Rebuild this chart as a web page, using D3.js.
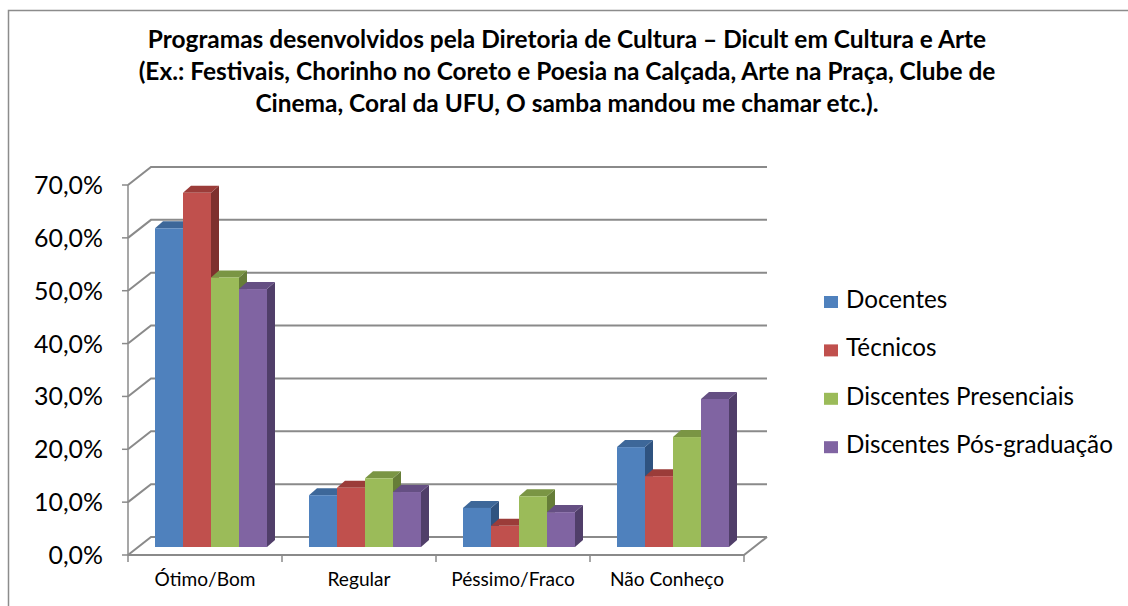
<!DOCTYPE html>
<html>
<head>
<meta charset="utf-8">
<script src="https://cdn.jsdelivr.net/npm/d3@7"></script>
<style>
  body { margin: 0; background: #fff; }
  text { font-family: Lato, "Open Sans", sans-serif; fill: #000; }
</style>
</head>
<body>
<div id="chart"></div>
<script>
// data
var categories = ["Ótimo/Bom", "Regular", "Péssimo/Fraco", "Não Conheço"];
var series = ["Docentes", "Técnicos", "Discentes Presenciais", "Discentes Pós-graduação"];
var docentes = [0.603, 0.098, 0.074, 0.189];
var tecnicos = [0.670, 0.112, 0.040, 0.134];
var presenciais = [0.510, 0.130, 0.096, 0.208];
var posGraduacao = [0.488, 0.104, 0.066, 0.280];
var yTicks = [0, 0.1, 0.2, 0.3, 0.4, 0.5, 0.6, 0.7];
var titleLines = [
    "Programas desenvolvidos pela Diretoria de Cultura – Dicult em Cultura e Arte",
    "(Ex.: Festivais, Chorinho no Coreto e Poesia na Calçada, Arte na Praça, Clube de",
    "Cinema, Coral da UFU, O samba mandou me chamar etc.)."
];

var seriesValues = [docentes, tecnicos, presenciais, posGraduacao];
var colors = ["#4F81BD", "#C0504D", "#9BBB59", "#8064A2"];
var topColors = ["#3D6799", "#9B3C39", "#7A9544", "#654F83"];
var sideColors = ["#2F5380", "#7E302E", "#667D38", "#503E69"];

var width = 1128, height = 606;

var svg = d3.select("#chart").append("svg")
    .attr("width", width)
    .attr("height", height);

// outer frame (only top and left edges show)
svg.append("path")
    .attr("d", "M8.5," + height + "V10.5H" + width)
    .attr("fill", "none")
    .attr("stroke", "#8c8c8c")
    .attr("stroke-width", 1.5);

// scales on the front plane
var yScale = d3.scaleLinear().domain([0, 0.7]).range([555, 185]);
var xCat = d3.scaleBand().domain(categories).range([128, 744]);
var xSeries = d3.scaleBand().domain(series).range([17, 129]);

// depth offsets
var wallDx = 23, wallDy = -18;  // back wall
var barDx = 10, barDy = -8;     // plane of bar fronts
var depthX = 8, depthY = -7;    // thickness of a bar

var loc = d3.formatLocale({decimal: ",", thousands: ".", grouping: [3], currency: ["R$", ""]});
var pct = loc.format(".1%");

// fit font size to a measured width
function fitSize(str, weight, target) {
    var t = svg.append("text").attr("font-size", 20).attr("font-weight", weight).text(str);
    var w = t.node().getComputedTextLength();
    t.remove();
    return 20 * target / w;
}

var gridColor = "#8a8a8a";
var grid = svg.append("g").attr("fill", "none").attr("stroke", gridColor).attr("stroke-width", 2);

// back wall gridlines and side diagonals
yTicks.forEach(function(v) {
    var y = yScale(v);
    grid.append("path")
        .attr("d", "M128," + y + "L" + (128 + wallDx) + "," + (y + wallDy) + "H767");
});

// floor
grid.append("path")
    .attr("d", "M128," + yScale(0) + "H744L767," + (yScale(0) + wallDy));

// y axis line + ticks
var axisG = svg.append("g").attr("stroke", gridColor).attr("stroke-width", 1.5);
axisG.append("line").attr("x1", 128).attr("x2", 128).attr("y1", yScale(0.7)).attr("y2", yScale(0));
yTicks.forEach(function(v) {
    axisG.append("line").attr("x1", 122).attr("x2", 128).attr("y1", yScale(v)).attr("y2", yScale(v));
});
// category ticks
d3.range(categories.length + 1).forEach(function(i) {
    var x = 128 + i * xCat.bandwidth();
    axisG.append("line").attr("x1", x).attr("x2", x).attr("y1", yScale(0)).attr("y2", yScale(0) + 7);
});

// y labels
var ySize = fitSize("70,0%", 400, 69);
svg.append("g").selectAll("text")
    .data(yTicks)
    .enter().append("text")
    .attr("x", 103)
    .attr("y", d => yScale(d))
    .attr("dy", "0.36em")
    .attr("text-anchor", "end")
    .attr("font-size", ySize)
    .text(d => pct(d));

// category labels
var catSize = fitSize("Ótimo/Bom", 400, 101);
svg.append("g").selectAll("text")
    .data(categories)
    .enter().append("text")
    .attr("x", d => xCat(d) + xCat.bandwidth() / 2)
    .attr("y", 586)
    .attr("text-anchor", "middle")
    .attr("font-size", catSize)
    .text(d => d);

// 3D bars
var barW = xSeries.bandwidth();
var barsG = svg.append("g");
categories.forEach(function(cat, ci) {
    series.forEach(function(s, si) {
        var v = seriesValues[si][ci];
        var x = xCat(cat) + xSeries(s) + barDx;
        var top = yScale(v) + barDy;
        var bottom = yScale(0) + barDy;
        var g = barsG.append("g");
        // side
        g.append("path")
            .attr("d", "M" + (x + barW) + "," + top +
                "L" + (x + barW + depthX) + "," + (top + depthY) +
                "L" + (x + barW + depthX) + "," + (bottom + depthY) +
                "L" + (x + barW) + "," + bottom + "Z")
            .attr("fill", sideColors[si]);
        // top
        g.append("path")
            .attr("d", "M" + x + "," + top +
                "L" + (x + barW) + "," + top +
                "L" + (x + barW + depthX) + "," + (top + depthY) +
                "L" + (x + depthX) + "," + (top + depthY) + "Z")
            .attr("fill", topColors[si]);
        // front
        g.append("rect")
            .attr("x", x)
            .attr("y", top)
            .attr("width", barW)
            .attr("height", bottom - top)
            .attr("fill", colors[si]);
    });
});

// legend
var legSize = fitSize("Discentes Pós-graduação", 400, 267);
var legend = svg.append("g").selectAll("g")
    .data(series)
    .enter().append("g")
    .attr("transform", (d, i) => "translate(824," + (308 + i * 48.4) + ")");
legend.append("rect")
    .attr("x", 0).attr("y", -12)
    .attr("width", 14).attr("height", 12)
    .attr("fill", (d, i) => colors[i]);
legend.append("text")
    .attr("x", 22)
    .attr("y", 0)
    .attr("font-size", legSize)
    .text(d => d);

// title
var titleSize = fitSize(titleLines[0], 700, 839);
svg.append("g").selectAll("text")
    .data(titleLines)
    .enter().append("text")
    .attr("x", 567)
    .attr("y", (d, i) => 48 + i * 32)
    .attr("text-anchor", "middle")
    .attr("font-weight", 700)
    .attr("font-size", titleSize)
    .text(d => d);
</script>
</body>
</html>
